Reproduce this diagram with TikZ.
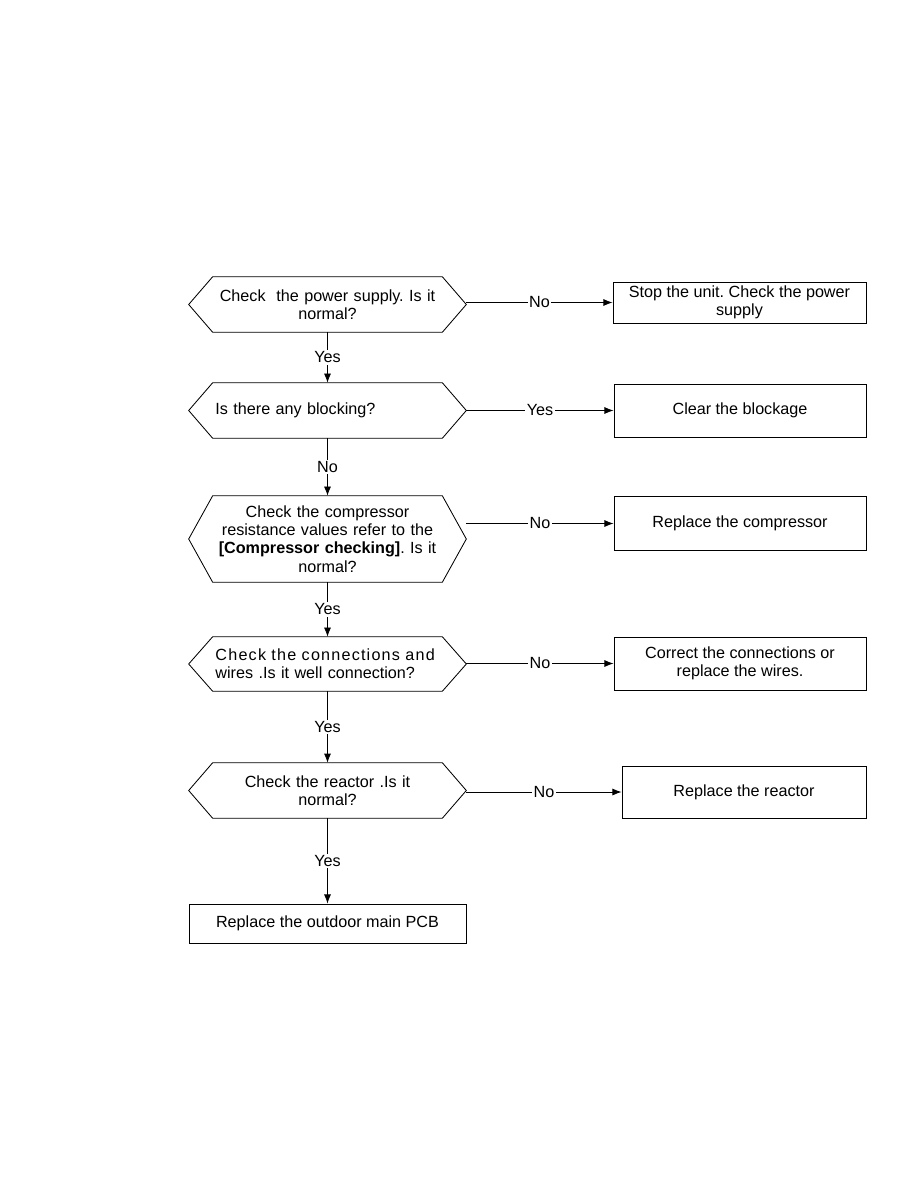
\documentclass[tikz,border=0pt]{standalone}
\usepackage{fontspec}
\setmainfont{Liberation Sans}
\usetikzlibrary{arrows.meta}
\frenchspacing

\begin{document}
\begin{tikzpicture}[x=0.025cm, y=-0.025cm, >={Latex[length=6.5pt,width=5pt]},
  every node/.style={font=\fontsize{11.5}{13}\selectfont},
  decision/.style={minimum width=6.925cm, text width=5.6cm, inner sep=0pt, align=center},
  box/.style={draw, line width=0.6pt, inner sep=0pt, align=center},
  lbl/.style={fill=white, inner sep=1pt}]
\useasboundingbox (0,0) rectangle (918,1188);

% decisions
\node[decision, minimum height=1.375cm] (d1) at (327.5,304.5) {Check\ \ the power supply. Is it\\normal?};
\node[decision, minimum height=1.375cm, align=left] (d2) at (327.5,410.5) {Is there any blocking?};
\node[decision, minimum height=2.15cm] (d3) at (327.5,539) {Check the compressor\\resistance values refer to the\\{\bfseries[Compressor checking]}. Is it\\normal?};
\node[decision, minimum height=1.35cm, align=left] (d4) at (327.5,664) {{\addfontfeature{LetterSpace=7.4}Check the connections and}\\wires .Is it well connection?};
\node[decision, minimum height=1.375cm] (d5) at (327.5,790.5) {Check the reactor .Is it\\normal?};
\node[box, minimum width=6.925cm, minimum height=0.975cm] (pcb) at (327.5,923.5) {Replace the outdoor main PCB};

\foreach \n in {d1,d2,d3,d4,d5}
  \draw[line width=0.6pt] (\n.west) -- ([xshift=0.6cm]\n.north west) -- ([xshift=-0.6cm]\n.north east)
    -- (\n.east) -- ([xshift=-0.6cm]\n.south east) -- ([xshift=0.6cm]\n.south west) -- cycle;

% actions
\node[box, minimum width=6.325cm, minimum height=1.025cm] (b1) at (739.5,302.5) {Stop the unit. Check the power\\supply};
\node[box, minimum width=6.3cm, minimum height=1.325cm] (b2) at (740,410.5) {Clear the blockage};
\node[box, minimum width=6.3cm, minimum height=1.35cm] (b3) at (740,523.5) {Replace the compressor};
\node[box, minimum width=6.3cm, minimum height=1.325cm] (b4) at (740,663.5) {Correct the connections or\\replace the wires.};
\node[box, minimum width=6.1cm, minimum height=1.3cm] (b5) at (744,792) {Replace the reactor};

% connectors
\begin{scope}[line width=0.6pt]
\draw[->] (d1.east |- b1.west) -- node[lbl]{No} (b1.west);
\draw[->] (d2.east |- b2.west) -- node[lbl]{Yes} (b2.west);
\draw[->] (d3.east |- b3.west) -- node[lbl]{No} (b3.west);
\draw[->] (d4.east |- b4.west) -- node[lbl]{No} (b4.west);
\draw[->] (d5.east |- b5.west) -- node[lbl]{No} (b5.west);
\draw[->] (d1.south) -- node[lbl]{Yes} (d2.north);
\draw[->] (d2.south) -- node[lbl]{No} (d3.north);
\draw[->] (d3.south) -- node[lbl]{Yes} (d4.north);
\draw[->] (d4.south) -- node[lbl]{Yes} (d5.north);
\draw[->] (d5.south) -- node[lbl]{Yes} (pcb.north);
\end{scope}
\end{tikzpicture}
\end{document}
